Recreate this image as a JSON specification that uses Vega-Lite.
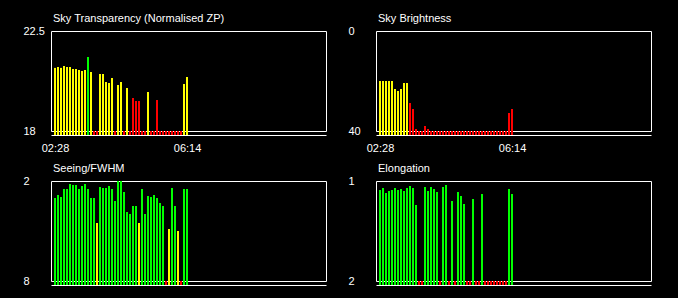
{
  "$schema": "https://vega.github.io/schema/vega-lite/v6.json",
  "background": "#000000",
  "padding": {"left": 22, "top": 12, "right": 27, "bottom": 13},
  "autosize": {"type": "pad"},
  "columns": 2,
  "spacing": 50,
  "bounds": "flush",
  "datasets": {
    "obs": [
      {"t": "2024-01-01T02:28:00", "zp": 20.84, "zq": "warn", "sb": 20, "sq": "warn", "fw": 3.02, "fq": "good", "el": 1.09, "eq": "good"},
      {"t": "2024-01-01T02:33:08", "zp": 20.88, "zq": "warn", "sb": 20, "sq": "warn", "fw": 2.84, "fq": "good", "el": 1.07, "eq": "good"},
      {"t": "2024-01-01T02:38:16", "zp": 20.84, "zq": "warn", "sb": 20, "sq": "warn", "fw": 2.96, "fq": "good", "el": 1.12, "eq": "good"},
      {"t": "2024-01-01T02:43:24", "zp": 20.93, "zq": "warn", "sb": 20, "sq": "warn", "fw": 2.48, "fq": "good", "el": 1.10, "eq": "good"},
      {"t": "2024-01-01T02:48:32", "zp": 20.88, "zq": "warn", "sb": 20, "sq": "warn", "fw": 2.48, "fq": "good", "el": 1.09, "eq": "good"},
      {"t": "2024-01-01T02:53:40", "zp": 20.88, "zq": "warn", "sb": 23.2, "sq": "warn", "fw": 2.18, "fq": "good", "el": 1.07, "eq": "good"},
      {"t": "2024-01-01T02:58:48", "zp": 20.79, "zq": "warn", "sb": 24, "sq": "warn", "fw": 2.24, "fq": "good", "el": 1.09, "eq": "good"},
      {"t": "2024-01-01T03:03:56", "zp": 20.79, "zq": "warn", "sb": 23.2, "sq": "warn", "fw": 2.24, "fq": "good", "el": 1.08, "eq": "good"},
      {"t": "2024-01-01T03:09:04", "zp": 20.75, "zq": "warn", "sb": 20.8, "sq": "warn", "fw": 2.48, "fq": "good", "el": 1.10, "eq": "good"},
      {"t": "2024-01-01T03:14:12", "zp": 20.70, "zq": "warn", "sb": 20.8, "sq": "warn", "fw": 2.30, "fq": "good", "el": 1.07, "eq": "good"},
      {"t": "2024-01-01T03:19:20", "zp": 20.75, "zq": "warn", "sb": 28.8, "sq": "bad", "fw": 2.18, "fq": "good", "el": 1.05, "eq": "good"},
      {"t": "2024-01-01T03:24:28", "zp": 21.33, "zq": "good", "sb": 31.2, "sq": "bad", "fw": 2.48, "fq": "good", "el": 1.07, "eq": "good"},
      {"t": "2024-01-01T03:29:36", "zp": 20.66, "zq": "warn", "sb": 39.2, "sq": "bad", "fw": 3.02, "fq": "good", "el": 1.24, "eq": "good"},
      {"t": "2024-01-01T03:34:44", "zp": 18, "zq": "bad", "sb": 40, "sq": "bad", "fw": 3.02, "fq": "good", "el": 2, "eq": "bad"},
      {"t": "2024-01-01T03:39:52", "zp": 18, "zq": "bad", "sb": 40, "sq": "bad", "fw": 4.52, "fq": "warn", "el": 2, "eq": "bad"},
      {"t": "2024-01-01T03:45:00", "zp": 20.57, "zq": "warn", "sb": 38, "sq": "bad", "fw": 2.36, "fq": "good", "el": 1.06, "eq": "good"},
      {"t": "2024-01-01T03:50:08", "zp": 20.57, "zq": "warn", "sb": 39.2, "sq": "bad", "fw": 2.42, "fq": "good", "el": 1.10, "eq": "good"},
      {"t": "2024-01-01T03:55:16", "zp": 20.21, "zq": "warn", "sb": 40, "sq": "bad", "fw": 2.42, "fq": "good", "el": 1.06, "eq": "good"},
      {"t": "2024-01-01T04:00:24", "zp": 20.16, "zq": "warn", "sb": 40, "sq": "bad", "fw": 2.30, "fq": "good", "el": 1.08, "eq": "good"},
      {"t": "2024-01-01T04:05:32", "zp": 20.39, "zq": "warn", "sb": 40, "sq": "bad", "fw": 2.48, "fq": "good", "el": 1.11, "eq": "good"},
      {"t": "2024-01-01T04:10:40", "zp": 18, "zq": "bad", "sb": 40, "sq": "bad", "fw": 3.20, "fq": "good", "el": 2, "eq": "bad"},
      {"t": "2024-01-01T04:15:48", "zp": 20.07, "zq": "warn", "sb": 40, "sq": "bad", "fw": 2.0, "fq": "good", "el": 1.06, "eq": "good"},
      {"t": "2024-01-01T04:20:56", "zp": 20.21, "zq": "warn", "sb": 40, "sq": "bad", "fw": 2.0, "fq": "good", "el": 1.04, "eq": "good"},
      {"t": "2024-01-01T04:26:04", "zp": 18, "zq": "bad", "sb": 40, "sq": "bad", "fw": 2.66, "fq": "good", "el": 2, "eq": "bad"},
      {"t": "2024-01-01T04:31:12", "zp": 19.94, "zq": "warn", "sb": 40, "sq": "bad", "fw": 3.86, "fq": "good", "el": 1.20, "eq": "good"},
      {"t": "2024-01-01T04:36:20", "zp": 18, "zq": "bad", "sb": 40, "sq": "bad", "fw": 3.98, "fq": "good", "el": 2, "eq": "bad"},
      {"t": "2024-01-01T04:41:28", "zp": 19.49, "zq": "bad", "sb": 40, "sq": "bad", "fw": 3.50, "fq": "good", "el": 1.11, "eq": "good"},
      {"t": "2024-01-01T04:46:36", "zp": 19.35, "zq": "bad", "sb": 40, "sq": "bad", "fw": 3.50, "fq": "good", "el": 1.15, "eq": "good"},
      {"t": "2024-01-01T04:51:44", "zp": 19.35, "zq": "bad", "sb": 40, "sq": "bad", "fw": 4.52, "fq": "warn", "el": 1.23, "eq": "good"},
      {"t": "2024-01-01T04:56:52", "zp": 18, "zq": "bad", "sb": 40, "sq": "bad", "fw": 2.48, "fq": "good", "el": 2, "eq": "bad"},
      {"t": "2024-01-01T05:02:00", "zp": 18, "zq": "bad", "sb": 40, "sq": "bad", "fw": 3.98, "fq": "good", "el": 2, "eq": "bad"},
      {"t": "2024-01-01T05:07:08", "zp": 19.76, "zq": "warn", "sb": 40, "sq": "bad", "fw": 2.90, "fq": "good", "el": 1.18, "eq": "good"},
      {"t": "2024-01-01T05:12:16", "zp": 18, "zq": "bad", "sb": 40, "sq": "bad", "fw": 2.96, "fq": "good", "el": 2, "eq": "bad"},
      {"t": "2024-01-01T05:17:24", "zp": 18, "zq": "bad", "sb": 40, "sq": "bad", "fw": 2.84, "fq": "good", "el": 2, "eq": "bad"},
      {"t": "2024-01-01T05:22:32", "zp": 19.40, "zq": "bad", "sb": 40, "sq": "bad", "fw": 3.02, "fq": "good", "el": 1.13, "eq": "good"},
      {"t": "2024-01-01T05:27:40", "zp": 18, "zq": "bad", "sb": 40, "sq": "bad", "fw": 3.32, "fq": "good", "el": 2, "eq": "bad"},
      {"t": "2024-01-01T05:32:48", "zp": 18, "zq": "bad", "sb": 40, "sq": "bad", "fw": 3.50, "fq": "good", "el": 2, "eq": "bad"},
      {"t": "2024-01-01T05:37:56", "zp": 18, "zq": "bad", "sb": 40, "sq": "bad", "fw": 8, "fq": "bad", "el": 2, "eq": "bad"},
      {"t": "2024-01-01T05:43:04", "zp": 18, "zq": "bad", "sb": 40, "sq": "bad", "fw": 4.88, "fq": "warn", "el": 2, "eq": "bad"},
      {"t": "2024-01-01T05:48:12", "zp": 18, "zq": "bad", "sb": 40, "sq": "bad", "fw": 2.42, "fq": "good", "el": 2, "eq": "bad"},
      {"t": "2024-01-01T05:53:20", "zp": 18, "zq": "bad", "sb": 40, "sq": "bad", "fw": 3.50, "fq": "good", "el": 2, "eq": "bad"},
      {"t": "2024-01-01T05:58:28", "zp": 18, "zq": "bad", "sb": 40, "sq": "bad", "fw": 5.00, "fq": "warn", "el": 2, "eq": "bad"},
      {"t": "2024-01-01T06:03:36", "zp": 18, "zq": "bad", "sb": 40, "sq": "bad", "fw": 8, "fq": "bad", "el": 2, "eq": "bad"},
      {"t": "2024-01-01T06:08:44", "zp": 20.12, "zq": "warn", "sb": 32.8, "sq": "bad", "fw": 2.48, "fq": "good", "el": 1.08, "eq": "good"},
      {"t": "2024-01-01T06:13:52", "zp": 20.43, "zq": "warn", "sb": 31.2, "sq": "bad", "fw": 2.48, "fq": "good", "el": 1.13, "eq": "good"}
    ]
  },
  "concat": [
    {
      "title": {"text": "Sky Transparency (Normalised ZP)"},
      "width": 275, "height": 100,
      "data": {"name": "obs"},
      "mark": {"type": "bar", "size": 2},
      "encoding": {
        "x": {"field": "t", "type": "temporal",
              "scale": {"padding": 0, "domain": [{"year": 2024, "month": 1, "date": 1, "hours": 2, "minutes": 21, "seconds": 9, "milliseconds": 333}, {"year": 2024, "month": 1, "date": 1, "hours": 10, "minutes": 11, "seconds": 42, "milliseconds": 667}]},
              "axis": {"title": null, "labelFlush": false, "format": "%H:%M", "values": [{"year": 2024, "month": 1, "date": 1, "hours": 2, "minutes": 28}, {"year": 2024, "month": 1, "date": 1, "hours": 6, "minutes": 14}]}},
        "y": {"field": "zp", "type": "quantitative", "scale": {"domain": [18, 22.5], "zero": false, "nice": false}, "axis": {"title": null, "labelFlush": false, "values": [18, 22.5], "format": ".1~f"}},
        "y2": {"datum": 17.82},
        "color": {"field": "zq", "type": "nominal", "scale": {"domain": ["good", "warn", "bad"], "range": ["#00ff00", "#ffff00", "#ff0000"]}, "legend": null}
      }
    },
    {
      "title": {"text": "Sky Brightness"},
      "width": 275, "height": 100,
      "data": {"name": "obs"},
      "mark": {"type": "bar", "size": 2},
      "encoding": {
        "x": {"field": "t", "type": "temporal",
              "scale": {"padding": 0, "domain": [{"year": 2024, "month": 1, "date": 1, "hours": 2, "minutes": 21, "seconds": 9, "milliseconds": 333}, {"year": 2024, "month": 1, "date": 1, "hours": 10, "minutes": 11, "seconds": 42, "milliseconds": 667}]},
              "axis": {"title": null, "labelFlush": false, "format": "%H:%M", "values": [{"year": 2024, "month": 1, "date": 1, "hours": 2, "minutes": 28}, {"year": 2024, "month": 1, "date": 1, "hours": 6, "minutes": 14}]}},
        "y": {"field": "sb", "type": "quantitative", "scale": {"domain": [0, 40], "reverse": true, "zero": false, "nice": false}, "axis": {"title": null, "labelFlush": false, "values": [0, 40], "format": ".1~f"}},
        "y2": {"datum": 41.6},
        "color": {"field": "sq", "type": "nominal", "scale": {"domain": ["good", "warn", "bad"], "range": ["#00ff00", "#ffff00", "#ff0000"]}, "legend": null}
      }
    },
    {
      "title": {"text": "Seeing/FWHM"},
      "width": 275, "height": 100,
      "data": {"name": "obs"},
      "mark": {"type": "bar", "size": 2},
      "encoding": {
        "x": {"field": "t", "type": "temporal",
              "scale": {"padding": 0, "domain": [{"year": 2024, "month": 1, "date": 1, "hours": 2, "minutes": 21, "seconds": 9, "milliseconds": 333}, {"year": 2024, "month": 1, "date": 1, "hours": 10, "minutes": 11, "seconds": 42, "milliseconds": 667}]},
              "axis": {"title": null, "labels": false}},
        "y": {"field": "fw", "type": "quantitative", "scale": {"domain": [2, 8], "reverse": true, "zero": false, "nice": false}, "axis": {"title": null, "labelFlush": false, "values": [2, 8], "format": ".1~f"}},
        "y2": {"datum": 8.24},
        "color": {"field": "fq", "type": "nominal", "scale": {"domain": ["good", "warn", "bad"], "range": ["#00ff00", "#ffff00", "#ff0000"]}, "legend": null}
      }
    },
    {
      "title": {"text": "Elongation"},
      "width": 275, "height": 100,
      "data": {"name": "obs"},
      "mark": {"type": "bar", "size": 2},
      "encoding": {
        "x": {"field": "t", "type": "temporal",
              "scale": {"padding": 0, "domain": [{"year": 2024, "month": 1, "date": 1, "hours": 2, "minutes": 21, "seconds": 9, "milliseconds": 333}, {"year": 2024, "month": 1, "date": 1, "hours": 10, "minutes": 11, "seconds": 42, "milliseconds": 667}]},
              "axis": {"title": null, "labels": false}},
        "y": {"field": "el", "type": "quantitative", "scale": {"domain": [1, 2], "reverse": true, "zero": false, "nice": false}, "axis": {"title": null, "labelFlush": false, "values": [1, 2], "format": ".1~f"}},
        "y2": {"datum": 2.04},
        "color": {"field": "eq", "type": "nominal", "scale": {"domain": ["good", "warn", "bad"], "range": ["#00ff00", "#ffff00", "#ff0000"]}, "legend": null}
      }
    }
  ],
  "config": {
    "view": {"stroke": "#ffffff", "strokeWidth": 1, "fill": null},
    "bar": {"stroke": null},
    "axis": {"grid": false, "ticks": false, "tickSize": 0, "labelColor": "#ffffff", "labelFont": "Liberation Sans", "labelFontSize": 11, "domainColor": "#ffffff", "domainWidth": 1, "labelFlush": false, "labelOverlap": false},
    "axisX": {"offset": 4, "labelPadding": 7, "labelBaseline": "top"},
    "axisY": {"domain": false, "labelAlign": "left", "labelPadding": 28, "labelBaseline": "middle"},
    "title": {"anchor": "start", "frame": "group", "dx": 2, "offset": 1, "baseline": "alphabetic", "font": "Liberation Sans", "fontSize": 11, "fontWeight": "normal", "color": "#ffffff"}
  }
}
